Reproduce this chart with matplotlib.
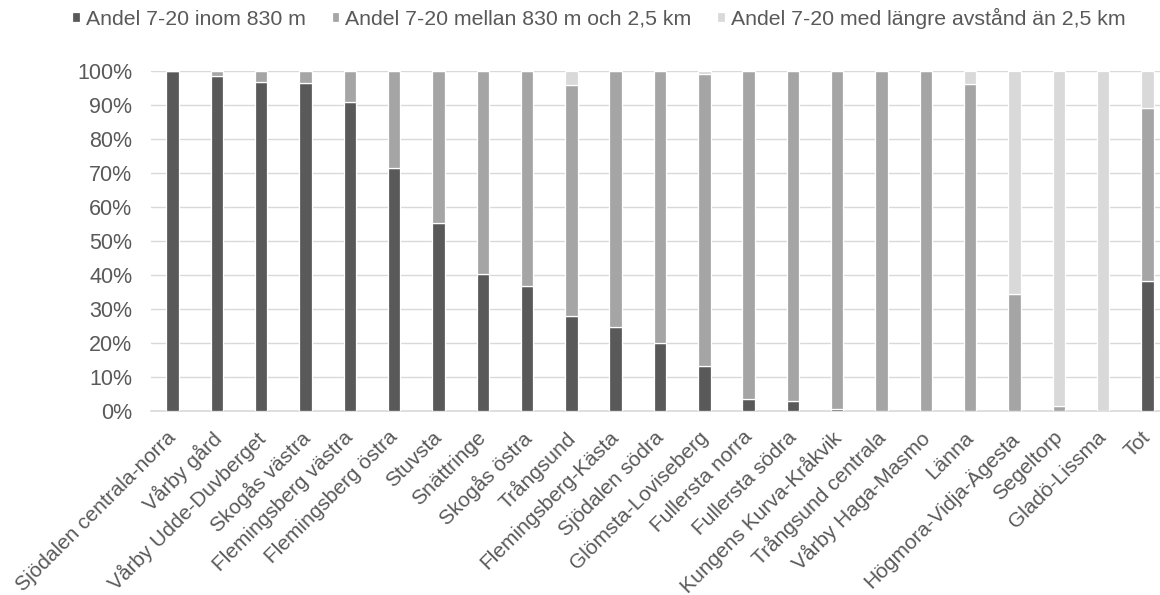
import matplotlib
matplotlib.use("Agg")
import matplotlib.pyplot as plt
import matplotlib.transforms as mtransforms
import numpy as np

plt.rcParams['font.family'] = ['Liberation Sans', 'DejaVu Sans']

categories = ["Sjödalen centrala-norra", "Vårby gård", "Vårby Udde-Duvberget", "Skogås västra",
              "Flemingsberg västra", "Flemingsberg östra", "Stuvsta", "Snättringe", "Skogås östra",
              "Trångsund", "Flemingsberg-Kästa", "Sjödalen södra", "Glömsta-Loviseberg",
              "Fullersta norra", "Fullersta södra", "Kungens Kurva-Kråkvik", "Trångsund centrala",
              "Vårby Haga-Masmo", "Länna", "Högmora-Vidja-Ägesta", "Segeltorp", "Gladö-Lissma", "Tot"]

inom = [100, 98.5, 96.8, 96.5, 90.8, 71.6, 55.4, 40.2, 36.8, 28.0, 24.6, 20.1, 13.2,
        3.4, 2.8, 0.6, 0, 0, 0, 0, 0, 0, 38.1]
mellan = [0, 1.5, 3.2, 3.5, 9.2, 28.4, 44.6, 59.8, 63.2, 67.9, 75.4, 79.9, 85.8,
          96.6, 97.2, 99.4, 100, 100, 96.2, 34.5, 1.6, 0, 50.9]
langre = [0, 0, 0, 0, 0, 0, 0, 0, 0, 4.1, 0, 0, 1.0,
          0, 0, 0, 0, 0, 3.8, 65.5, 98.4, 100, 11.0]

series_names = ["Andel 7-20 inom 830 m", "Andel 7-20 mellan 830 m och 2,5 km",
                "Andel 7-20 med längre avstånd än 2,5 km"]
colors = ["#595959", "#a5a5a5", "#d9d9d9"]
text_color = "#595959"

fig = plt.figure(figsize=(11.6, 5.95), dpi=100)
ax = fig.add_axes([150.5/1160, 1-411/595, 1019/1160, 340/595])

x = np.arange(len(categories))
bottom = np.zeros(len(categories))
handles = []
for vals, name, c in zip([inom, mellan, langre], series_names, colors):
    v = np.array(vals) / 100.0
    b = ax.bar(x, v, 0.28, bottom=bottom, color=c, edgecolor='white', linewidth=0.9, label=name, zorder=3)
    bottom += v
    handles.append(b)

ax.set_xlim(-0.5, len(categories) - 0.5)
ax.set_ylim(0, 1.0)
ticks = np.arange(0, 1.01, 0.1)
ax.set_yticks(ticks)
ax.set_yticklabels([f"{int(round(t*100))}%" for t in ticks])
ax.yaxis.grid(True, color='#d9d9d9', linewidth=1, zorder=0)
ax.set_axisbelow(True)
for s in ['top', 'right', 'left']:
    ax.spines[s].set_visible(False)
ax.spines['bottom'].set_color('#d9d9d9')
ax.spines['bottom'].set_linewidth(1.2)
ax.tick_params(axis='y', length=0, colors=text_color, labelsize=15.5, pad=13)
ax.tick_params(axis='x', length=0, colors=text_color, labelsize=15, pad=12)
ax.set_xticks(x)
ax.set_xticklabels(categories, rotation=45, ha='right', va='top', rotation_mode='anchor')
offset = mtransforms.ScaledTranslation(-4.5/72, 0, fig.dpi_scale_trans)
for lbl in ax.get_xticklabels():
    lbl.set_color(text_color)
    lbl.set_transform(lbl.get_transform() + offset)

leg = fig.legend(handles=handles, labels=series_names, loc='center', bbox_to_anchor=(599/1160, 1-18/595),
                 ncol=3, frameon=False, fontsize=15.3, handlelength=0.35, handleheight=0.35,
                 handletextpad=0.3, columnspacing=1.2)
for t in leg.get_texts():
    t.set_color(text_color)

fig.savefig("out.png", dpi=100)
